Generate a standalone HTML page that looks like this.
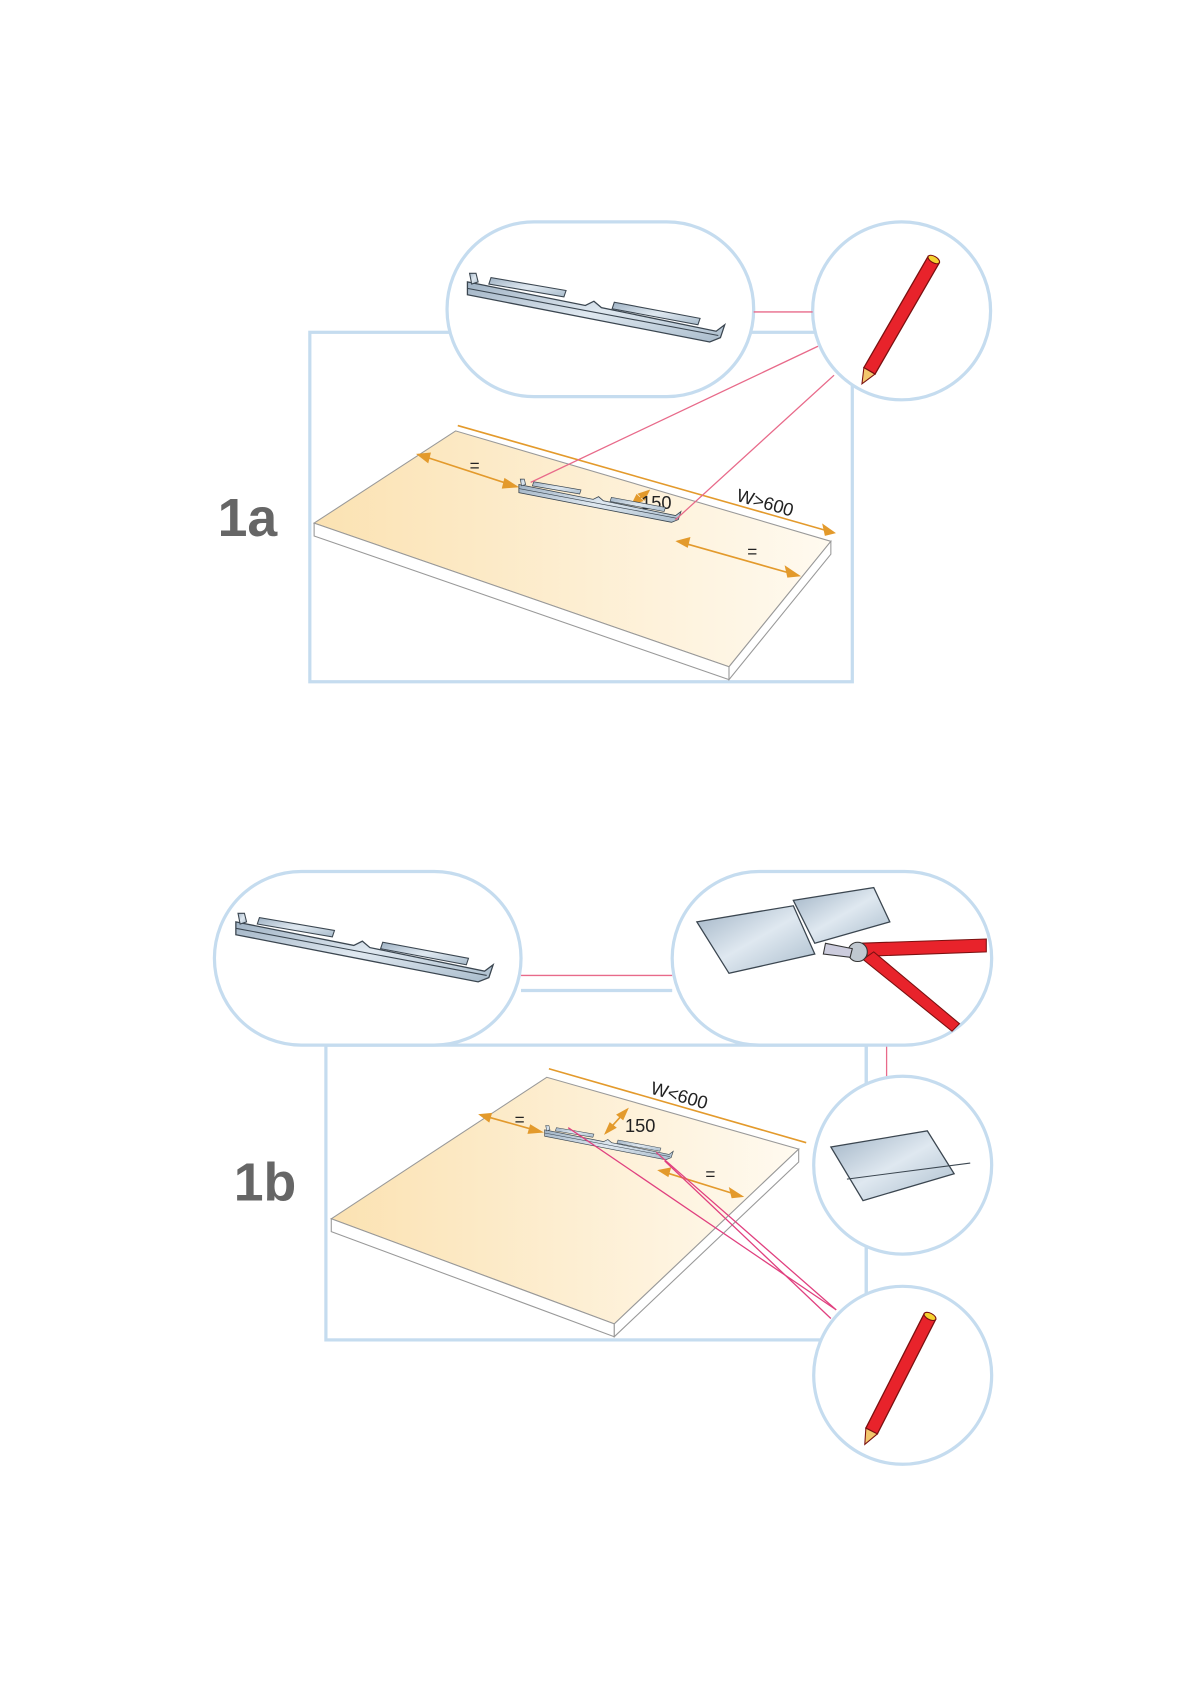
<!DOCTYPE html>
<html><head><meta charset="utf-8"><style>
html,body{margin:0;padding:0;background:#fff;}
svg{display:block;}
</style></head><body>
<svg width="1190" height="1684" viewBox="0 0 1110 1571" preserveAspectRatio="none" xmlns="http://www.w3.org/2000/svg">
<defs>
<linearGradient id="wood" x1="0" y1="0" x2="1" y2="0">
<stop offset="0" stop-color="#fbe2b2"/><stop offset="1" stop-color="#fffaf0"/></linearGradient>
<linearGradient id="met" x1="0" y1="0" x2="1" y2="1">
<stop offset="0" stop-color="#9fb2c4"/><stop offset="0.5" stop-color="#dfe8f0"/><stop offset="1" stop-color="#a9bccc"/></linearGradient>
<g id="rail">
<polygon points="0,0 110,22 118,18 125,24 232,46 240,40 236,52 226,56 0,12" fill="url(#met)" stroke="#3b4650" stroke-width="1.2"/>
<polygon points="4,2 2,-8 8,-8 10,0" fill="url(#met)" stroke="#3b4650" stroke-width="1"/>
<line x1="0" y1="6" x2="234" y2="50" stroke="#3b4650" stroke-width="1"/>
<polygon points="20,2 90,14 92,8 22,-4" fill="url(#met)" stroke="#3b4650" stroke-width="1"/>
<polygon points="135,25 215,40 217,34 137,19" fill="url(#met)" stroke="#3b4650" stroke-width="1"/>
</g>
<g id="pencil">
<polygon points="-6,0 6,0 6,-120 -6,-120" fill="#e8232b" stroke="#7a1010" stroke-width="1.2"/>
<polygon points="-6,0 6,0 0,14" fill="#f2c66d" stroke="#7a1010" stroke-width="1"/>
<ellipse cx="0" cy="-120" rx="6" ry="3" fill="#f5d230" stroke="#7a1010"/>
</g>
</defs>

<!-- ===== 1a ===== -->
<rect x="289" y="310" width="506" height="326" fill="none" stroke="#c5dcef" stroke-width="3"/>
<text x="203" y="500" font-family="Liberation Sans, sans-serif" font-weight="bold" font-size="50" fill="#666">1a</text>
<polygon points="293,488 425,402 775,505 680,622" fill="url(#wood)" stroke="#999" stroke-width="1"/>
<polygon points="293,488 680,622 680,634 293,500" fill="#fff" stroke="#999" stroke-width="1"/>
<polygon points="680,622 775,505 775,517 680,634" fill="#fff" stroke="#999" stroke-width="1"/>
<g stroke="#e39a2c" stroke-width="1.5" fill="#e39a2c">
<line x1="427" y1="397" x2="778" y2="497"/>
<polygon points="778,497 768,490 770,499"/>
<line x1="390" y1="424" x2="482" y2="454"/>
<polygon points="390,424 401,423 399,431"/><polygon points="482,454 471,447 469,455"/>
<line x1="632" y1="505" x2="745" y2="537"/>
<polygon points="745,537 733,529 735,538"/><polygon points="632,505 643,502 641,510"/>
<line x1="605" y1="458" x2="590" y2="470"/>
<polygon points="605,458 596,461 601,466"/><polygon points="590,470 599,467 594,462"/>
</g>
<g font-family="Liberation Sans, sans-serif" fill="#222">
<text x="438" y="440" font-size="16">=</text>
<text x="697" y="520" font-size="16">=</text>
<text x="598" y="475" font-size="17">150</text>
<text x="686" y="467" font-size="17" transform="rotate(16 686 467)">W&gt;600</text>
</g>
<use href="#rail" transform="translate(484,452) scale(0.63)"/>
<rect x="417" y="207" width="286" height="163" rx="81" fill="#fff" stroke="#c5dcef" stroke-width="3"/>
<use href="#rail" transform="translate(436,263)"/>
<circle cx="841" cy="290" r="83" fill="#fff" stroke="#c5dcef" stroke-width="3"/>
<use href="#pencil" transform="translate(811,346) rotate(30)"/>
<g stroke="#e86a8a" stroke-width="1.2">
<line x1="703" y1="291" x2="758" y2="291"/>
<line x1="763" y1="323" x2="495" y2="450"/>
<line x1="778" y1="350" x2="630" y2="485"/>
</g>

<!-- ===== 1b ===== -->
<rect x="304" y="975" width="504" height="275" fill="none" stroke="#c5dcef" stroke-width="3"/>
<text x="218" y="1120" font-family="Liberation Sans, sans-serif" font-weight="bold" font-size="50" fill="#666">1b</text>
<polygon points="309,1137 510,1005 745,1072 573,1235" fill="url(#wood)" stroke="#999" stroke-width="1"/>
<polygon points="309,1137 573,1235 573,1247 309,1149" fill="#fff" stroke="#999" stroke-width="1"/>
<polygon points="573,1235 745,1072 745,1084 573,1247" fill="#fff" stroke="#999" stroke-width="1"/>
<g stroke="#e39a2c" stroke-width="1.5" fill="#e39a2c">
<line x1="512" y1="997" x2="752" y2="1066"/>
<line x1="448" y1="1040" x2="505" y2="1056"/>
<polygon points="448,1040 458,1039 456,1046"/><polygon points="505,1056 495,1050 493,1057"/>
<line x1="615" y1="1092" x2="692" y2="1116"/>
<polygon points="692,1116 681,1109 683,1117"/><polygon points="615,1092 625,1090 623,1097"/>
<line x1="585" y1="1035" x2="565" y2="1057"/>
<polygon points="585,1035 576,1040 581,1044"/><polygon points="565,1057 574,1052 569,1048"/>
</g>
<g font-family="Liberation Sans, sans-serif" fill="#222">
<text x="480" y="1050" font-size="16">=</text>
<text x="658" y="1101" font-size="16">=</text>
<text x="583" y="1056" font-size="17">150</text>
<text x="606" y="1020" font-size="17" transform="rotate(16 606 1020)">W&lt;600</text>
</g>
<use href="#rail" transform="translate(508,1054) scale(0.5)"/>
<g stroke="#e0407f" stroke-width="1.2">
<line x1="530" y1="1052" x2="780" y2="1222"/>
<line x1="612" y1="1075" x2="780" y2="1222"/>
<line x1="620" y1="1083" x2="775" y2="1230"/>
</g>
<line x1="486" y1="910" x2="627" y2="910" stroke="#e86a8a" stroke-width="1.2"/>
<line x1="486" y1="924" x2="627" y2="924" stroke="#c5dcef" stroke-width="3"/>
<line x1="827" y1="975" x2="827" y2="1004" stroke="#e86a8a" stroke-width="1.2"/>
<line x1="808" y1="975" x2="808" y2="1250" stroke="#c5dcef" stroke-width="3"/>
<rect x="200" y="813" width="286" height="162" rx="81" fill="#fff" stroke="#c5dcef" stroke-width="3"/>
<use href="#rail" transform="translate(220,860)"/>
<rect x="627" y="813" width="298" height="162" rx="81" fill="#fff" stroke="#c5dcef" stroke-width="3"/>
<polygon points="650,860 740,845 760,890 680,908" fill="url(#met)" stroke="#3b4650" stroke-width="1.2"/>
<polygon points="740,840 815,828 830,860 760,880" fill="url(#met)" stroke="#3b4650" stroke-width="1.2"/>
<g fill="#e8232b" stroke="#7a1010" stroke-width="1">
<polygon points="800,880 920,876 920,888 810,892"/>
<polygon points="805,895 815,888 895,955 888,962"/>
</g>
<circle cx="800" cy="888" r="9" fill="#c0c8d0" stroke="#333"/>
<polygon points="770,880 795,885 793,893 768,890" fill="#ccd" stroke="#333"/>
<circle cx="842" cy="1087" r="83" fill="#fff" stroke="#c5dcef" stroke-width="3"/>
<polygon points="775,1070 865,1055 890,1095 805,1120" fill="url(#met)" stroke="#3b4650" stroke-width="1.2"/>
<line x1="790" y1="1100" x2="905" y2="1085" stroke="#3b4650"/>
<circle cx="842" cy="1283" r="83" fill="#fff" stroke="#c5dcef" stroke-width="3"/>
<use href="#pencil" transform="translate(813,1335) rotate(27)"/>
</svg>
</body></html>
